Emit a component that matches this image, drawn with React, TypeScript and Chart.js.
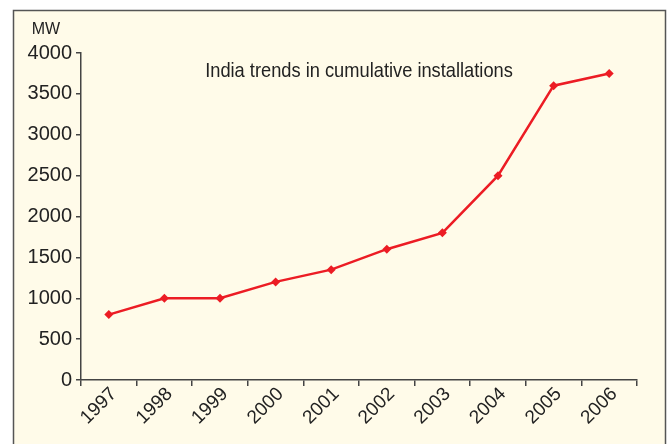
import React, { useEffect, useRef } from "react";
import { Chart, registerables } from "chart.js";

Chart.register(...registerables);

const years = ["1997", "1998", "1999", "2000", "2001", "2002", "2003", "2004", "2005", "2006"];
const installedMW = [800, 1000, 1000, 1200, 1350, 1600, 1800, 2500, 3600, 3750];
const chartTitle = "India trends in cumulative installations";
const unitLabel = "MW";

const FONT = "'Liberation Sans', Arial, sans-serif";

const framePlugin = {
  id: "frame",
  beforeDraw(chart: any) {
    const ctx = chart.ctx;
    ctx.save();
    ctx.fillStyle = "#ffffff";
    ctx.fillRect(0, 0, chart.width, chart.height);
    ctx.fillStyle = "#fffbe9";
    ctx.fillRect(13, 10, 653, chart.height);
    ctx.strokeStyle = "#555555";
    ctx.lineWidth = 1.5;
    ctx.beginPath();
    ctx.moveTo(13.5, chart.height + 5);
    ctx.lineTo(13.5, 10.5);
    ctx.lineTo(665.5, 10.5);
    ctx.lineTo(665.5, chart.height + 5);
    ctx.stroke();
    ctx.restore();
  },
  afterDraw(chart: any) {
    const ctx = chart.ctx;
    const area = chart.chartArea;
    ctx.save();
    ctx.fillStyle = "#222222";
    ctx.textAlign = "center";
    ctx.textBaseline = "middle";
    ctx.save();
    ctx.translate((area.left + area.right) / 2, 71);
    ctx.scale(0.87, 1);
    ctx.font = "21px " + FONT;
    ctx.fillText(chartTitle, 0, 0);
    ctx.restore();
    ctx.font = "16px " + FONT;
    ctx.fillText(unitLabel, 46, 30);
    ctx.restore();
  },
};

export default function App() {
  const ref = useRef<HTMLCanvasElement>(null);
  useEffect(() => {
    if (!ref.current) return;
    const chart = new Chart(ref.current, {
      type: "line",
      data: {
        labels: years,
        datasets: [
          {
            data: installedMW,
            borderColor: "#ec1c24",
            backgroundColor: "#ec1c24",
            borderWidth: 2.5,
            pointStyle: "rectRot",
            pointRadius: 4.5,
            pointBorderWidth: 0,
            tension: 0,
          },
        ],
      },
      options: {
        responsive: false,
        animation: false,
        layout: { padding: { top: 53, right: 33, left: 0, bottom: 0 } },
        plugins: { legend: { display: false }, tooltip: { enabled: false } },
        scales: {
          x: {
            offset: true,
            afterFit(scale: any) {
              scale.height = 64;
            },
            grid: {
              offset: true,
              drawOnChartArea: false,
              drawTicks: true,
              tickLength: 6,
              color: "#444444",
              lineWidth: 1.5,
            },
            border: { color: "#444444", width: 1.5 },
            ticks: {
              color: "#222222",
              font: { family: FONT, size: 19 },
              maxRotation: 45,
              minRotation: 45,
              padding: -3,
              labelOffset: 5,
            },
          },
          y: {
            min: 0,
            max: 4000,
            afterFit(scale: any) {
              scale.width = 81;
            },
            grid: {
              drawOnChartArea: false,
              drawTicks: true,
              tickLength: 5,
              color: "#444444",
              lineWidth: 1.5,
            },
            border: { color: "#444444", width: 1.5 },
            ticks: {
              stepSize: 500,
              color: "#222222",
              font: { family: FONT, size: 20 },
              padding: 4,
              callback: (v: any) => String(v),
            },
          },
        },
      },
      plugins: [framePlugin],
    });
    return () => chart.destroy();
  }, []);
  return (
    <div style={{ position: "absolute", left: 0, top: 0, width: 670, height: 444 }}>
      <canvas ref={ref} width={670} height={444} style={{ display: "block" }} />
    </div>
  );
}
